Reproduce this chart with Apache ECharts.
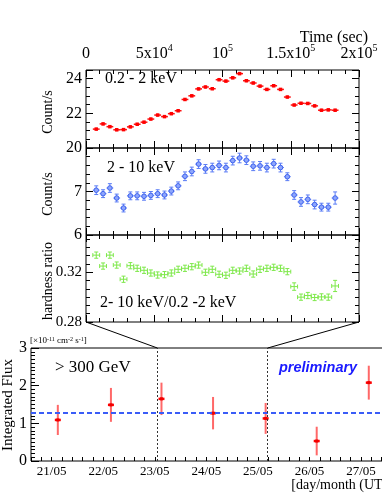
<!DOCTYPE html>
<html>
<head>
<meta charset="utf-8">
<script src="https://cdn.jsdelivr.net/npm/echarts@6/dist/echarts.min.js"></script>
<style>
html, body { margin: 0; padding: 0; background: #fff; }
#chart { width: 382px; height: 494px; }
</style>
</head>
<body>
<div id="chart"></div>
<script>
'use strict';

// X-ray light curve, 5000 s bins (bin centres in sec)
var binTimes = [7500, 12500, 17500, 22500, 27500, 32500, 37500, 42500, 47500, 52500,
    57500, 62500, 67500, 72500, 77500, 82500, 87500, 92500, 97500, 102500,
    107500, 112500, 117500, 122500, 127500, 132500, 137500, 142500, 147500, 152500,
    157500, 162500, 167500, 172500, 177500, 182500];
var binHalfWidth = 2500;

// 0.2 - 2 keV count rate
var softRate = [21.09, 21.39, 21.23, 21.05, 21.06, 21.22, 21.37, 21.49, 21.67, 21.90,
    21.81, 21.98, 22.15, 22.80, 23.01, 23.41, 23.52, 23.42, 23.94, 23.86,
    24.05, 24.29, 23.88, 23.75, 23.57, 23.38, 23.59, 23.38, 22.94, 22.48,
    22.58, 22.57, 22.43, 22.18, 22.20, 22.18];
var softErr = 0.08;

// 2 - 10 keV count rate
var hardRate = [7.03, 6.95, 7.08, 6.85, 6.62, 6.90, 6.90, 6.89, 6.91, 6.95,
    6.92, 7.01, 7.13, 7.35, 7.46, 7.63, 7.52, 7.55, 7.60, 7.55,
    7.71, 7.77, 7.72, 7.58, 7.59, 7.55, 7.64, 7.55, 7.34, 6.92,
    6.76, 6.82, 6.70, 6.64, 6.64, 6.85];
var hardErr = [0.10, 0.09, 0.10, 0.09, 0.09, 0.09, 0.09, 0.09, 0.09, 0.09,
    0.09, 0.09, 0.09, 0.10, 0.10, 0.10, 0.10, 0.10, 0.10, 0.10,
    0.10, 0.11, 0.10, 0.10, 0.10, 0.10, 0.10, 0.10, 0.09, 0.10,
    0.10, 0.10, 0.10, 0.09, 0.09, 0.14];

// hardness ratio 2-10 keV / 0.2-2 keV
var hardness = [0.3338, 0.3250, 0.3338, 0.3258, 0.3144, 0.3253, 0.3232, 0.3216, 0.3194, 0.3178,
    0.3181, 0.3194, 0.3224, 0.3232, 0.3245, 0.3258, 0.3200, 0.3224, 0.3184, 0.3176,
    0.3216, 0.3210, 0.3232, 0.3186, 0.3224, 0.3232, 0.3240, 0.3232, 0.3205, 0.3085,
    0.3000, 0.3013, 0.2997, 0.3002, 0.3000, 0.3090];
var hardnessErr = [0.0025, 0.0025, 0.0025, 0.0025, 0.0025, 0.0025, 0.0025, 0.0025, 0.0025, 0.0025,
    0.0025, 0.0025, 0.0025, 0.0025, 0.0025, 0.0025, 0.0025, 0.0025, 0.0025, 0.0025,
    0.0025, 0.0025, 0.0025, 0.0025, 0.0025, 0.0025, 0.0025, 0.0025, 0.0025, 0.003,
    0.0025, 0.0025, 0.0025, 0.0025, 0.0025, 0.0045];

var timeTickLabels = ['0', '5x10^4', '10^5', '1.5x10^5', '2x10^5'];
var softTicks = [20, 22, 24];
var hardTicks = [6, 7];
var ratioTicks = [0.28, 0.32];
var fluxTicks = [0, 1, 2, 3];

// MAGIC nightly flux above 300 GeV (x 1e-11 cm-2 s-1)
var nightLabels = ['21/05', '22/05', '23/05', '24/05', '25/05', '26/05', '27/05'];
var nightDays = [21.12, 22.15, 23.13, 24.13, 25.15, 26.14, 27.15];
var flux = [1.09, 1.49, 1.65, 1.27, 1.13, 0.53, 2.08];
var fluxErr = [0.40, 0.45, 0.43, 0.43, 0.41, 0.38, 0.45];
var meanFlux = 1.27;
var xmmStartDay = 23.05;
var xmmEndDay = 25.19;

var SERIF = '"Liberation Serif", "DejaVu Serif", serif';

function toRich(s) {
    return s.replace(/\^(-?\d+)/g, '{sup|$1}');
}

function tickBase() {
    return {
        axisLine: {show: false, onZero: false},
        axisTick: {inside: true, length: 7, lineStyle: {color: '#000', width: 1}},
        minorTick: {show: true, length: 4, lineStyle: {color: '#000', width: 1}},
        splitLine: {show: false},
        minorSplitLine: {show: false}
    };
}

function timeAxis(grid, pos, withLabels) {
    var ax = tickBase();
    ax.type = 'value';
    ax.gridIndex = grid;
    ax.position = pos;
    ax.min = 0;
    ax.max = 200000;
    ax.interval = 50000;
    ax.minorTick.splitNumber = 5;
    if (withLabels) {
        ax.axisLabel = {
            show: true, inside: false, margin: 5, color: '#000', fontFamily: SERIF, fontSize: 16, lineHeight: 22,
            formatter: function (v) {
                return toRich(timeTickLabels[Math.round(v / 50000)]);
            },
            rich: {sup: {fontSize: 10, lineHeight: 10, verticalAlign: 'top', fontFamily: SERIF, color: '#000'}}
        };
    } else {
        ax.axisLabel = {show: false};
    }
    return ax;
}

function valAxis(grid, pos, min, max, interval, split, shown, fmt, fontSize) {
    var ax = tickBase();
    ax.type = 'value';
    ax.gridIndex = grid;
    ax.position = pos;
    ax.min = min;
    ax.max = max;
    ax.interval = interval;
    ax.minorTick.splitNumber = split;
    if (shown) {
        ax.axisLabel = {
            show: true, inside: false, margin: 4, color: '#000', fontFamily: SERIF, fontSize: fontSize,
            customValues: shown,
            formatter: function (v) { return fmt(v); }
        };
    } else {
        ax.axisLabel = {show: false};
    }
    return ax;
}

function errorBars(color, halfW, marker, caps, hWidth) {
    return function (params, api) {
        var x = api.value(0), y = api.value(1), e = api.value(2);
        var l = api.coord([x - halfW, y]);
        var r = api.coord([x + halfW, y]);
        var t = api.coord([x, y + e]);
        var b = api.coord([x, y - e]);
        var st = {stroke: color, lineWidth: 1};
        var kids = [
            {type: 'line', shape: {x1: l[0], y1: l[1], x2: r[0], y2: r[1]}, style: {stroke: color, lineWidth: hWidth || 1}},
            {type: 'line', shape: {x1: t[0], y1: t[1], x2: b[0], y2: b[1]}, style: st}
        ];
        if (caps) {
            kids.push({type: 'line', shape: {x1: t[0] - 2, y1: t[1], x2: t[0] + 2, y2: t[1]}, style: st});
            kids.push({type: 'line', shape: {x1: b[0] - 2, y1: b[1], x2: b[0] + 2, y2: b[1]}, style: st});
            if (caps === 'all') {
                kids.push({type: 'line', shape: {x1: l[0], y1: l[1] - 2, x2: l[0], y2: l[1] + 2}, style: st});
                kids.push({type: 'line', shape: {x1: r[0], y1: r[1] - 2, x2: r[0], y2: r[1] + 2}, style: st});
            }
        }
        if (marker) kids.push(marker(l, r, t, b, api.coord([x, y])));
        return {type: 'group', children: kids};
    };
}

function zip(xs, ys, es) {
    return xs.map(function (x, i) {
        return [x, ys[i], Array.isArray(es) ? es[i] : es];
    });
}

function sideTitle(id, text, x, y, size) {
    return {
        id: id, type: 'text', x: x, y: y, rotation: Math.PI / 2,
        style: {text: text, font: size + 'px ' + SERIF, fill: '#000', align: 'center', verticalAlign: 'middle'}
    };
}

var option = {
    animation: false,
    backgroundColor: '#fff',
    grid: [
        {left: 86, top: 70, right: 23, height: 78, show: true, borderColor: '#000', borderWidth: 1, outerBoundsMode: 'none'},
        {left: 86, top: 148, right: 23, height: 87, show: true, borderColor: '#000', borderWidth: 1, outerBoundsMode: 'none'},
        {left: 86, top: 235, right: 23, height: 87, show: true, borderColor: '#000', borderWidth: 1, outerBoundsMode: 'none'},
        {left: 31, top: 348, right: -10, bottom: 33, show: true, borderColor: '#000', borderWidth: 1, outerBoundsMode: 'none'}
    ],
    xAxis: [
        timeAxis(0, 'bottom', false),
        timeAxis(0, 'top', true),
        timeAxis(1, 'bottom', false),
        timeAxis(1, 'top', false),
        timeAxis(2, 'bottom', false),
        timeAxis(2, 'top', false),
        (function () {
            var ax = tickBase();
            ax.type = 'value';
            ax.gridIndex = 3;
            ax.position = 'bottom';
            ax.min = 20.6;
            ax.max = 27.6;
            ax.interval = 0.2;
            ax.axisTick.length = 4;
            ax.minorTick.show = false;
            ax.axisLabel = {
                show: true, inside: false, margin: 4, color: '#000', fontFamily: SERIF, fontSize: 13,
                customValues: nightLabels.map(function (s, i) { return 21 + i; }),
                formatter: function (v) {
                    return nightLabels[Math.round(v) - 21] || '';
                }
            };
            ax.name = '[day/month (UT)]';
            ax.nameLocation = 'end';
            ax.nameGap = 0;
            ax.nameMoveOverlap = false;
            ax.nameTextStyle = {fontFamily: SERIF, fontSize: 14, color: '#000', align: 'right', verticalAlign: 'top', padding: [17, 0, 0, 0]};
            return ax;
        })()
    ],
    yAxis: [
        valAxis(0, 'left', 20, 24.5, 2, 4, softTicks, function (v) { return String(Math.round(v)); }, 16),
        valAxis(0, 'right', 20, 24.5, 2, 4, null),
        valAxis(1, 'left', 6, 8, 1, 5, hardTicks, function (v) { return String(Math.round(v)); }, 16),
        valAxis(1, 'right', 6, 8, 1, 5, null),
        valAxis(2, 'left', 0.28, 0.35, 0.04, 6, ratioTicks, function (v) { return v.toFixed(2); }, 15),
        valAxis(2, 'right', 0.28, 0.35, 0.04, 6, null),
        (function () {
            var ax = valAxis(3, 'left', 0, 3, 1, 10, fluxTicks, function (v) { return String(Math.round(v)); }, 16);
            ax.axisTick.length = 8;
            return ax;
        })()
    ],
    series: [
        {
            type: 'custom', xAxisIndex: 0, yAxisIndex: 0, encode: {x: 0, y: 1},
            renderItem: errorBars('#ff1010', binHalfWidth, function (l, r, t, b, c) {
                return {type: 'rect', shape: {x: c[0] - 1.75, y: c[1] - 1.75, width: 3.5, height: 3.5}, style: {fill: '#ff0000'}};
            }, false, 1.5),
            data: zip(binTimes, softRate, softErr)
        },
        {
            type: 'custom', xAxisIndex: 2, yAxisIndex: 2, encode: {x: 0, y: 1},
            renderItem: errorBars('#5a7cf5', binHalfWidth, function (l, r, t, b, c) {
                return {type: 'circle', shape: {cx: c[0], cy: c[1], r: 2.3}, style: {fill: '#8ea6fb', stroke: '#3f63f0', lineWidth: 1}};
            }, 'ends'),
            data: zip(binTimes, hardRate, hardErr)
        },
        {
            type: 'custom', xAxisIndex: 4, yAxisIndex: 4, encode: {x: 0, y: 1},
            renderItem: errorBars('#7ee84a', binHalfWidth, null, 'all'),
            data: zip(binTimes, hardness, hardnessErr)
        },
        {
            type: 'custom', xAxisIndex: 6, yAxisIndex: 6, encode: {x: 0, y: 1},
            renderItem: function (params, api) {
                var x = api.value(0), y = api.value(1), e = api.value(2);
                var c = api.coord([x, y]);
                var t = api.coord([x, y + e]);
                var b = api.coord([x, y - e]);
                return {type: 'group', children: [
                    {type: 'line', shape: {x1: t[0], y1: t[1], x2: b[0], y2: b[1]}, style: {stroke: 'rgba(255,40,40,0.7)', lineWidth: 2}},
                    {type: 'line', shape: {x1: c[0] - 3, y1: c[1], x2: c[0] + 3, y2: c[1]}, style: {stroke: '#ff0000', lineWidth: 2.5}},
                    {type: 'rect', shape: {x: c[0] - 1.5, y: c[1] - 1.5, width: 3, height: 3}, style: {fill: '#ee0000'}}
                ]};
            },
            data: zip(nightDays, flux, fluxErr),
            markLine: {
                silent: true, symbol: 'none', label: {show: false},
                data: [
                    {yAxis: meanFlux, lineStyle: {color: '#3a5cf7', type: [5, 3], width: 2}},
                    {xAxis: xmmStartDay, lineStyle: {color: '#333', type: [2, 2], width: 1}},
                    {xAxis: xmmEndDay, lineStyle: {color: '#333', type: [2, 2], width: 1}}
                ]
            }
        }
    ],
    graphic: [
        {id: 'tTitle', type: 'text', x: 368, y: 38, style: {text: 'Time (sec)', font: '16px ' + SERIF, fill: '#000', align: 'right', verticalAlign: 'middle'}},
        sideTitle('ySoft', 'Count/s', 48, 112, 14),
        sideTitle('yHard', 'Count/s', 48, 194, 14),
        sideTitle('yRatio', 'hardness ratio', 48, 281, 14),
        sideTitle('yFlux', 'Integrated Flux', 8, 405, 15),
        {id: 'lSoft', type: 'text', x: 105, y: 79, style: {text: '0.2 - 2 keV', font: '16px ' + SERIF, fill: '#000', align: 'left', verticalAlign: 'middle'}},
        {id: 'lHard', type: 'text', x: 107, y: 168, style: {text: '2 - 10 keV', font: '16px ' + SERIF, fill: '#000', align: 'left', verticalAlign: 'middle'}},
        {id: 'lRatio', type: 'text', x: 100, y: 303, style: {text: '2- 10 keV/0.2 -2 keV', font: '16px ' + SERIF, fill: '#000', align: 'left', verticalAlign: 'middle'}},
        {id: 'lTeV', type: 'text', x: 55, y: 368, style: {text: '> 300 GeV', font: '17px ' + SERIF, fill: '#000', align: 'left', verticalAlign: 'middle'}},
        {id: 'lPrelim', type: 'text', x: 279, y: 368, style: {text: 'preliminary', font: 'italic bold 14.5px "Liberation Sans", Arial, sans-serif', fill: '#1a1aff', align: 'left', verticalAlign: 'middle'}},
        {id: 'lUnits', type: 'text', x: 30, y: 341, style: {
            text: toRich('[\u00d710^-11 cm^-2 s^-1]'), font: '9px ' + SERIF, fill: '#000', align: 'left', verticalAlign: 'middle',
            rich: {sup: {fontSize: 6, lineHeight: 6, verticalAlign: 'top', fontFamily: SERIF, fill: '#000'}}
        }}
    ]
};

var chart = echarts.init(document.getElementById('chart'));
chart.setOption(option);

// zoom lines: X-ray time range -> XMM window on the TeV panel
var a0 = chart.convertToPixel({xAxisIndex: 4, yAxisIndex: 4}, [0, 0.28]);
var a1 = chart.convertToPixel({xAxisIndex: 4, yAxisIndex: 4}, [200000, 0.28]);
var b0 = chart.convertToPixel({xAxisIndex: 6, yAxisIndex: 6}, [xmmStartDay, 3]);
var b1 = chart.convertToPixel({xAxisIndex: 6, yAxisIndex: 6}, [xmmEndDay, 3]);
chart.setOption({
    graphic: [
        {id: 'zoomL', type: 'line', shape: {x1: a0[0], y1: a0[1], x2: b0[0], y2: b0[1]}, style: {stroke: '#000', lineWidth: 1}},
        {id: 'zoomR', type: 'line', shape: {x1: a1[0], y1: a1[1], x2: b1[0], y2: b1[1]}, style: {stroke: '#000', lineWidth: 1}}
    ]
});
</script>
</body>
</html>
